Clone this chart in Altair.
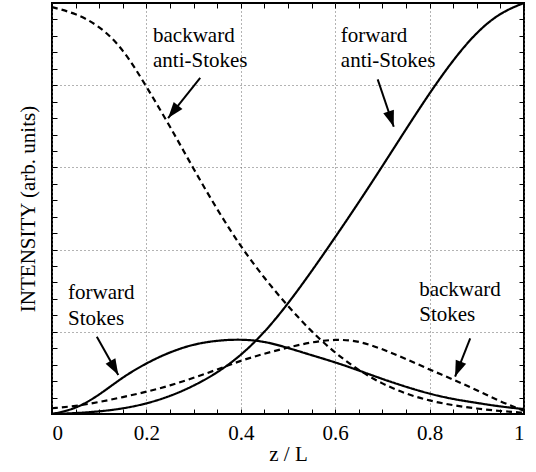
import math
import altair as alt
import pandas as pd

# ---------------- data ----------------
z = [0.0, 0.05, 0.1, 0.15, 0.2, 0.25, 0.3, 0.35, 0.4, 0.45, 0.5,
     0.55, 0.6, 0.65, 0.7, 0.75, 0.8, 0.85, 0.9, 0.95, 1.0]
forward_anti_stokes = [0.0, 0.002, 0.006, 0.013, 0.025, 0.043, 0.068, 0.1, 0.142, 0.198, 0.268,
                       0.347, 0.43, 0.515, 0.603, 0.693, 0.781, 0.862, 0.93, 0.977, 1.0]
backward_anti_stokes = [0.99, 0.975, 0.945, 0.89, 0.797, 0.70, 0.596, 0.497, 0.407, 0.33, 0.262,
                        0.2, 0.148, 0.106, 0.073, 0.049, 0.032, 0.021, 0.013, 0.007, 0.003]
forward_stokes = [0.0, 0.012, 0.046, 0.09, 0.124, 0.151, 0.17, 0.179, 0.182, 0.177, 0.161,
                  0.143, 0.126, 0.106, 0.085, 0.066, 0.049, 0.036, 0.027, 0.018, 0.012]
backward_stokes = [0.014, 0.019, 0.029, 0.041, 0.054, 0.069, 0.088, 0.108, 0.13, 0.147, 0.162,
                   0.175, 0.182, 0.178, 0.158, 0.134, 0.108, 0.084, 0.058, 0.03, 0.008]

series_names = ["forward anti-Stokes", "backward anti-Stokes", "forward Stokes", "backward Stokes"]
series_styles = ["solid", "dashed", "solid", "dashed"]
series_values = [forward_anti_stokes, backward_anti_stokes, forward_stokes, backward_stokes]

x_labels = [0, 0.2, 0.4, 0.6, 0.8, 1]
grid_vals = [0.2, 0.4, 0.6, 0.8]
x_minor = [round(0.05 * i, 2) for i in range(21)]
y_minor = [round(0.04 * i, 2) for i in range(26)]

annot_text = ["backward", "anti-Stokes", "forward", "anti-Stokes",
              "forward", "Stokes", "backward", "Stokes"]
annot_x = [0.214, 0.214, 0.612, 0.612, 0.034, 0.034, 0.778, 0.778]
annot_y = [0.905, 0.844, 0.905, 0.844, 0.28, 0.217, 0.287, 0.226]

arrow_x1 = [0.314, 0.690, 0.095, 0.886]
arrow_y1 = [0.818, 0.814, 0.188, 0.184]
arrow_x2 = [0.246, 0.724, 0.1405, 0.854]
arrow_y2 = [0.720, 0.699, 0.095, 0.091]

# ---------------- layout ----------------
W, H = 472, 411
FONT = "Liberation Serif"

rows = []
for name, style, vals in zip(series_names, series_styles, series_values):
    for zi, v in zip(z, vals):
        rows.append({"z": zi, "I": v, "series": name, "style": style})
df = pd.DataFrame(rows)

ann = pd.DataFrame({"z": annot_x, "I": annot_y, "text": annot_text})

angles = []
for x1, y1, x2, y2 in zip(arrow_x1, arrow_y1, arrow_x2, arrow_y2):
    dx = (x2 - x1) * W
    dy = -(y2 - y1) * H
    angles.append(math.degrees(math.atan2(dx, -dy)) % 360)
arr = pd.DataFrame({"z": arrow_x1, "I": arrow_y1, "z2": arrow_x2, "I2": arrow_y2, "ang": angles})

xs = alt.Scale(domain=[0, 1], nice=False, zero=False)
ys = alt.Scale(domain=[0, 1], nice=False, zero=False)

lines = alt.Chart(df).mark_line(color="black", strokeWidth=2.2, interpolate="basis").encode(
    x=alt.X("z:Q", scale=xs, axis=alt.Axis(
        orient="bottom", values=x_labels, format="~g", title="z / L",
        grid=True, gridDash=[1, 3], gridColor="#666", gridWidth=1,
        ticks=False, domain=False, labelFont=FONT, labelFontSize=21, labelColor="black",
        labelPadding=8, titleFont=FONT, titleFontSize=21, titleFontWeight="normal",
        titleColor="black", titlePadding=0)),
    y=alt.Y("I:Q", scale=ys, axis=alt.Axis(
        orient="left", values=grid_vals, labels=False, ticks=False, domain=False,
        grid=True, gridDash=[1, 3], gridColor="#666", gridWidth=1,
        title="INTENSITY (arb. units)", titleFont=FONT, titleFontSize=21,
        titleFontWeight="normal", titleColor="black", titlePadding=14)),
    detail="series:N",
    strokeDash=alt.StrokeDash("style:N", scale=alt.Scale(domain=["solid", "dashed"],
                                                         range=[[1, 0], [6, 4]]), legend=None),
)

def tick_axis(orient, values, offset):
    return alt.Axis(orient=orient, values=values, labels=False, domain=False, grid=False,
                    ticks=True, tickSize=5, tickWidth=1, tickColor="black",
                    title=None, offset=offset)

ticks_a = alt.Chart(df).mark_point(opacity=0).encode(
    x=alt.X("z:Q", scale=xs, axis=tick_axis("top", x_minor, -H)),
    y=alt.Y("I:Q", scale=ys, axis=tick_axis("right", y_minor, -W)),
)
ticks_b = alt.Chart(df).mark_point(opacity=0).encode(
    x=alt.X("z:Q", scale=xs, axis=tick_axis("bottom", x_minor, -H)),
    y=alt.Y("I:Q", scale=ys, axis=tick_axis("left", y_minor, -W)),
)

texts = alt.Chart(ann).mark_text(align="left", baseline="alphabetic", font=FONT,
                                 fontSize=21, color="black").encode(
    x=alt.X("z:Q", scale=xs, axis=None),
    y=alt.Y("I:Q", scale=ys, axis=None),
    text="text:N",
)

shafts = alt.Chart(arr).mark_rule(color="black", strokeWidth=2).encode(
    x=alt.X("z:Q", scale=xs, axis=None),
    y=alt.Y("I:Q", scale=ys, axis=None),
    x2="z2:Q",
    y2="I2:Q",
)

heads = alt.Chart(arr).mark_point(shape="M0,0 L0.35,1 L-0.35,1 Z", filled=True, size=1024,
                                  color="black", opacity=1, strokeWidth=0).encode(
    x=alt.X("z2:Q", scale=xs, axis=None),
    y=alt.Y("I2:Q", scale=ys, axis=None),
    angle=alt.Angle("ang:Q", scale=None),
)

chart = alt.layer(lines, ticks_a, ticks_b, texts, shafts, heads).resolve_axis(
    x="independent", y="independent"
).properties(
    width=W, height=H, autosize="none",
    padding={"left": 52, "top": 3, "right": 12, "bottom": 58},
    background="white",
).configure_view(stroke="black", strokeWidth=2)

chart.save("out.html", embed_options={"renderer": "svg", "actions": False})
